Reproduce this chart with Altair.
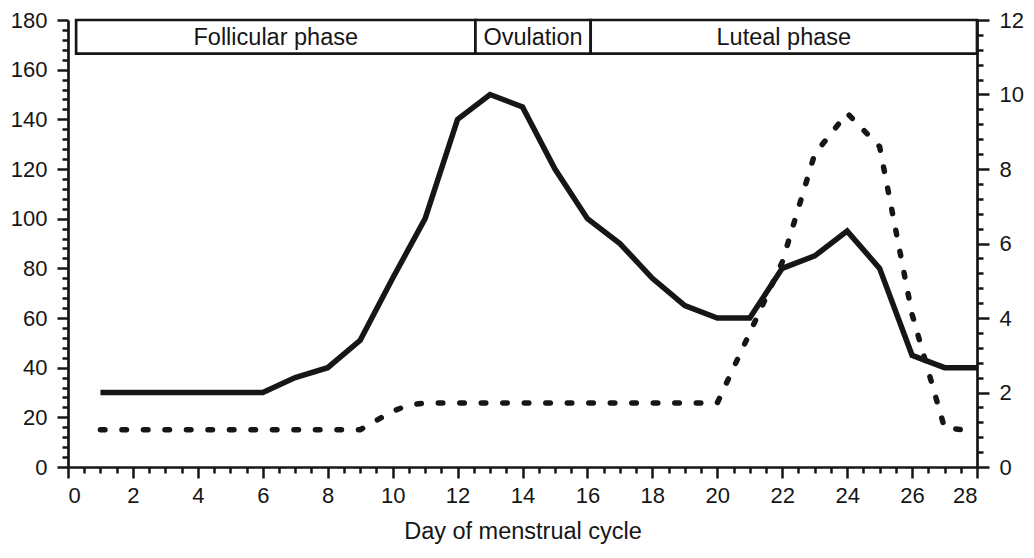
import altair as alt
import pandas as pd

# ---- data ----
days = list(range(1, 29))
solid_values = [30, 30, 30, 30, 30, 30, 36, 40, 51, 76, 100, 140, 150, 145, 120, 100,
                90, 76, 65, 60, 60, 80, 85, 95, 80, 45, 40, 40]

dotted_days = [1, 2, 3, 4, 5, 6, 7, 8, 9, 10, 10.5, 11, 12, 13, 14, 15, 16, 17, 18, 19, 20,
               21, 22, 23, 24, 25, 26, 27, 27.6]
dotted_values = [1, 1, 1, 1, 1, 1, 1, 1, 1, 1.5, 1.66, 1.72, 1.72, 1.72, 1.72, 1.72, 1.72,
                 1.72, 1.72, 1.72, 1.72, 3.6, 5.5, 8.4, 9.5, 8.6, 4.1, 1.05, 1.0]

phase_labels = ["Follicular phase", "Ovulation", "Luteal phase"]
phase_start = [0.25, 12.55, 16.1]
phase_end = [12.55, 16.1, 28]
phase_bottom = [166.5, 166.5, 166.5]
phase_top = [180, 180, 180]

x_tick_values = [i * 0.5 for i in range(57)]
left_tick_values = list(range(0, 181, 4))
right_tick_values = [round(0.4 * i, 1) for i in range(31)]

FONT = "Liberation Sans"
INK = "#161616"

solid_df = pd.DataFrame({"day": days, "value": solid_values})
dotted_df = pd.DataFrame({"day": dotted_days, "value": dotted_values})
phase_df = pd.DataFrame({"label": phase_labels, "start": phase_start, "end": phase_end,
                         "bottom": phase_bottom, "top": phase_top})

x_scale = alt.Scale(domain=[0, 28], nice=False, zero=False)

x_axis = alt.Axis(
    values=x_tick_values,
    title="Day of menstrual cycle",
    labelExpr="datum.value % 2 === 0 ? format(datum.value, 'd') : ''",
    tickSize={"condition": {"test": "datum.value % 2 === 0", "value": 11}, "value": 6},
    labelOverlap=False,
    labelPadding=7,
    titlePadding=13,
    orient="bottom",
)

left_axis = alt.Axis(
    values=left_tick_values,
    title=None,
    labelExpr="datum.value % 20 === 0 ? format(datum.value, 'd') : ''",
    tickSize={"condition": {"test": "datum.value % 20 === 0", "value": 11}, "value": 6},
    labelOverlap=False,
    labelPadding=10,
    orient="left",
)

right_axis = alt.Axis(
    values=right_tick_values,
    title=None,
    labelExpr="abs(datum.value % 2) < 1e-6 || abs(datum.value % 2 - 2) < 1e-6 ? format(datum.value, 'd') : ''",
    tickSize={"condition": {"test": "abs(datum.value % 2) < 1e-6 || abs(datum.value % 2 - 2) < 1e-6",
                            "value": 12}, "value": 6},
    labelOverlap=False,
    labelPadding=10,
    orient="right",
)

left_y_scale = alt.Scale(domain=[0, 180], nice=False)
right_y_scale = alt.Scale(domain=[0, 12], nice=False)

solid = alt.Chart(solid_df).mark_line(color=INK, strokeWidth=5.5).encode(
    x=alt.X("day:Q", scale=x_scale, axis=x_axis),
    y=alt.Y("value:Q", scale=left_y_scale, axis=left_axis),
)

rects = alt.Chart(phase_df).mark_rect(fill="white", stroke=INK, strokeWidth=2.7).encode(
    x=alt.X("start:Q", scale=x_scale, axis=x_axis),
    x2="end:Q",
    y=alt.Y("bottom:Q", scale=left_y_scale, axis=left_axis),
    y2="top:Q",
)

texts = alt.Chart(phase_df).transform_calculate(
    mid="(datum.start + datum.end) / 2",
    ymid="(datum.bottom + datum.top) / 2",
).mark_text(font=FONT, fontSize=23.5, color=INK, baseline="middle", align="center", dy=1).encode(
    x=alt.X("mid:Q", scale=x_scale, axis=x_axis),
    y=alt.Y("ymid:Q", scale=left_y_scale, axis=left_axis),
    text="label:N",
)

left = alt.layer(solid, rects, texts)

dotted = alt.Chart(dotted_df).mark_line(
    color=INK, strokeWidth=5.5, strokeDash=[4.5, 17], strokeCap="round"
).encode(
    x=alt.X("day:Q", scale=x_scale, axis=x_axis),
    y=alt.Y("value:Q", scale=right_y_scale, axis=right_axis),
)

chart = alt.layer(left, dotted).resolve_scale(y="independent").properties(
    width=909,
    height=447,
    padding={"left": 60, "top": 12, "right": 49, "bottom": 83},
    autosize=alt.AutoSizeParams(type="none"),
).configure_view(stroke=None).configure_axis(
    grid=False,
    domainColor=INK,
    domainWidth=2.7,
    tickColor=INK,
    tickWidth=2.5,
    labelFont=FONT,
    labelFontSize=22,
    labelColor=INK,
    titleFont=FONT,
    titleFontSize=23.5,
    titleFontWeight="normal",
    titleColor=INK,
)

chart.save("out.html", embed_options={"renderer": "svg", "actions": False})
